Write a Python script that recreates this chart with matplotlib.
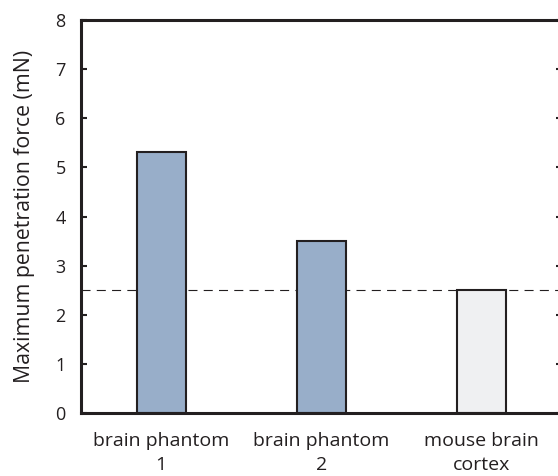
import matplotlib
matplotlib.use("Agg")
import matplotlib.pyplot as plt

plt.rcParams['font.family'] = ['Open Sans', 'DejaVu Sans']
plt.rcParams['lines.scale_dashes'] = False

# penetration force per sample (mN)
samples = ["brain phantom\n1", "brain phantom\n2", "mouse brain\ncortex"]
max_force = [5.32, 3.5, 2.5]
bar_colors = ["#98aec9", "#98aec9", "#eff0f2"]
threshold = 2.5
yticks = [0, 1, 2, 3, 4, 5, 6, 7, 8]

fig = plt.figure(figsize=(5.58, 4.76), dpi=100)
ax = fig.add_axes([81 / 558, 63 / 476, 481 / 558, 393 / 476])

x = range(len(samples))
ax.bar(x, max_force, width=0.305, color=bar_colors, edgecolor="#231f20",
       linewidth=1.5, zorder=2)

# reference level, runs on past the right edge
ln = ax.axhline(threshold, color="#231f20", linewidth=0.8, zorder=1)
ln.set_dashes((6.5, 4.5))

ax.set_xlim(-0.5, 2.5)
ax.set_ylim(0, 8)
ax.set_yticks(yticks)
ax.set_xticks(list(x))
ax.set_xticklabels(samples, fontsize=14, color="#231f20", linespacing=1.4)
ax.tick_params(axis="x", length=0, pad=14)
ax.tick_params(axis="y", direction="in", length=4, width=1.5, pad=11,
               labelsize=13, labelcolor="#231f20", color="#231f20",
               right=True)
ax.set_ylabel("Maximum penetration force (mN)", fontsize=15.3,
              color="#231f20", labelpad=15)

for side in ["left", "right", "top", "bottom"]:
    ax.spines[side].set_linewidth(2.2)
    ax.spines[side].set_color("#231f20")

fig.savefig("out.png", dpi=100)
